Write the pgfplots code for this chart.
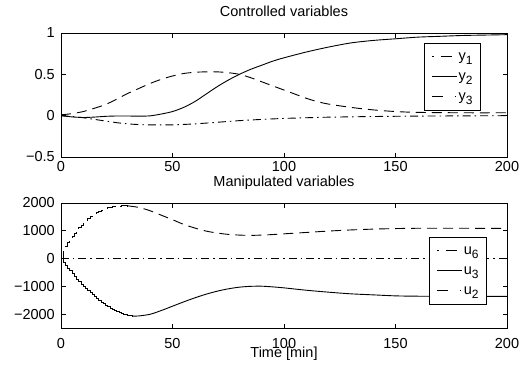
\documentclass[border=0pt]{standalone}
\usepackage{fontspec}
\setmainfont{Liberation Sans}
\usepackage{pgfplots}
\pgfplotsset{compat=1.18}
\newcommand{\bigf}{\fontsize{14.5}{17}\selectfont}
\newcommand{\sub}[1]{\raisebox{-0.55ex}{\fontsize{12}{12}\selectfont #1}}
\pgfplotsset{
  mystyle/.style={
    scale only axis, width=446pt,
    xmin=0, xmax=200, xtick={0,50,100,150,200},
    tick align=inside, tick pos=both,
    major tick length=4.5pt,
    axis line style={line width=0.8pt},
    every tick/.style={line width=0.7pt, black},
    /pgf/number format/assume math mode=true,
    tick label style={font=\bigf},
    yticklabel style={anchor=east, inner sep=0pt, xshift=-6pt},
    title style={anchor=base, at={(0.5,1)}, yshift=11pt, inner sep=0pt, font=\bigf},
    label style={font=\bigf},
    legend style={draw=black, line width=0.8pt, fill=white, font=\bigf,
      inner xsep=7pt, inner ysep=5pt, row sep=3pt,
      nodes={inner sep=1pt, text height=11pt, text depth=4pt},
      /tikz/every even column/.append style={column sep=7pt}},
    legend cell align=left,
  },
  dd/.style={black, line width=0.9pt, dash pattern=on 8pt off 4pt on 1.5pt off 4pt},
  dl/.style={black, line width=0.9pt, dash pattern=on 10pt off 6pt},
  sl/.style={black, line width=0.9pt},
  legA/.style={legend image code/.code={\draw[black, line width=0.9pt, dash pattern=on 1.5pt off 7pt on 11.5pt off 10pt] (0pt,0pt) -- (25pt,0pt);}},
  legB/.style={legend image code/.code={\draw[black, line width=0.9pt] (0pt,0pt) -- (25pt,0pt);}},
  legC/.style={legend image code/.code={\draw[black, line width=0.9pt, dash pattern=on 11pt off 11.5pt on 1.5pt off 5pt] (0pt,0pt) -- (25pt,0pt);}},
}
\begin{document}
\bigf
\begin{tikzpicture}[font=\bigf]
\path[use as bounding box] (0pt,0pt) rectangle (523pt,-365pt);
% ---------- top axis ----------
\begin{axis}[mystyle, at={(61pt,-33pt)}, anchor=north west, height=124pt,
  ymin=-0.5, ymax=1, ytick={-0.5,0,0.5,1}, yticklabels={−0.5,0,0.5,1},
  xticklabel style={anchor=base, inner sep=0pt, yshift=-14.5pt},
  title={Controlled variables},
  legend style={at={(0.9417,0.919)}, anchor=north east}]
\addplot[dd, legA] coordinates {(0,0) (5,-0.01) (10,-0.025) (15,-0.045) (20,-0.065) (25,-0.085) (30,-0.1) (35,-0.108) (40,-0.112) (50,-0.112) (60,-0.1) (70,-0.08) (80,-0.06) (90,-0.045) (100,-0.033) (110,-0.025) (120,-0.018) (140,-0.01) (160,-0.005) (200,0)};
\addlegendentry{y\sub{1}}
\addplot[sl, legB, smooth] coordinates {(0,0) (5,-0.015) (10,-0.022) (15,-0.017) (20,-0.008) (25,-0.004) (30,-0.004) (35,-0.006) (40,-0.002) (45,0.02) (50,0.05) (55,0.1) (60,0.17) (65,0.26) (70,0.35) (75,0.43) (80,0.5) (85,0.56) (90,0.61) (95,0.66) (100,0.7) (110,0.77) (120,0.83) (130,0.88) (140,0.91) (150,0.93) (160,0.95) (170,0.96) (180,0.97) (190,0.975) (200,0.98)};
\addlegendentry{y\sub{2}}
\addplot[dl, legC, smooth] coordinates {(0,0.01) (5,0.025) (10,0.05) (15,0.09) (20,0.135) (25,0.2) (30,0.27) (35,0.33) (40,0.39) (45,0.44) (50,0.48) (55,0.51) (60,0.525) (65,0.53) (70,0.53) (75,0.52) (80,0.5) (85,0.46) (90,0.41) (95,0.36) (100,0.31) (105,0.26) (110,0.21) (115,0.17) (120,0.14) (130,0.1) (140,0.07) (150,0.05) (160,0.04) (180,0.035) (200,0.035)};
\addlegendentry{y\sub{3}}
\end{axis}
% ---------- bottom axis ----------
\begin{axis}[mystyle, at={(61pt,-203pt)}, anchor=north west, height=125pt,
  ymin=-2500, ymax=2000, ytick={-2000,-1000,0,1000,2000}, yticklabels={−2000,−1000,0,1000,2000},
  xticklabel style={anchor=base, inner sep=0pt, yshift=-20pt},
  title={Manipulated variables},
  xlabel={Time [min]}, xlabel style={anchor=base, at={(0.5,0)}, yshift=-29pt, inner sep=0pt},
  legend style={at={(0.955,0.728)}, anchor=north east}]
\addplot[dd, legA] coordinates {(0,0) (200,0)};
\addlegendentry{u\sub{6}}
\addplot[sl, legB, const plot] coordinates {(0,0) (1,-130) (2,-240) (3,-340) (4,-440) (5,-540) (6,-640) (7,-740) (8,-835) (9,-920) (10,-1000) (11,-1080) (12,-1160) (13,-1230) (14,-1300) (15,-1370) (16,-1440) (17,-1510) (18,-1570) (19,-1630) (20,-1690) (21,-1740) (22,-1790) (23,-1840) (24,-1880) (25,-1920) (26,-1950) (27,-1980) (28,-2010) (29,-2030) (30,-2050) (31,-2065) (32,-2075)};
\addlegendentry{u\sub{3}}
\addplot[dl, legC, const plot] coordinates {(0,0) (1,300) (2,450) (3,580) (4,700) (5,810) (6,920) (7,1020) (8,1110) (9,1200) (10,1280) (11,1360) (12,1430) (13,1500) (14,1560) (15,1610) (16,1660) (17,1700) (18,1740) (19,1770) (20,1800) (21,1825) (22,1845) (23,1862) (24,1875) (25,1885) (26,1892) (27,1897) (28,1900) (29,1900) (30,1897)};
\addlegendentry{u\sub{2}}
\addplot[sl, smooth, forget plot] coordinates {(32,-2075) (35,-2065) (40,-2005) (45,-1870) (50,-1715) (55,-1560) (60,-1415) (65,-1285) (70,-1175) (75,-1090) (80,-1030) (85,-1000) (90,-995) (95,-1020) (100,-1055) (110,-1140) (120,-1210) (130,-1270) (140,-1307) (150,-1343) (160,-1355) (180,-1360) (200,-1360)};
\addplot[dl, smooth, forget plot] coordinates {(30,1897) (35,1840) (40,1720) (45,1560) (50,1400) (55,1230) (60,1100) (65,990) (70,920) (75,870) (80,845) (85,835) (90,845) (95,865) (100,890) (110,940) (120,990) (130,1030) (140,1060) (150,1080) (160,1090) (180,1090) (200,1085)};
\end{axis}
\end{tikzpicture}
\end{document}
